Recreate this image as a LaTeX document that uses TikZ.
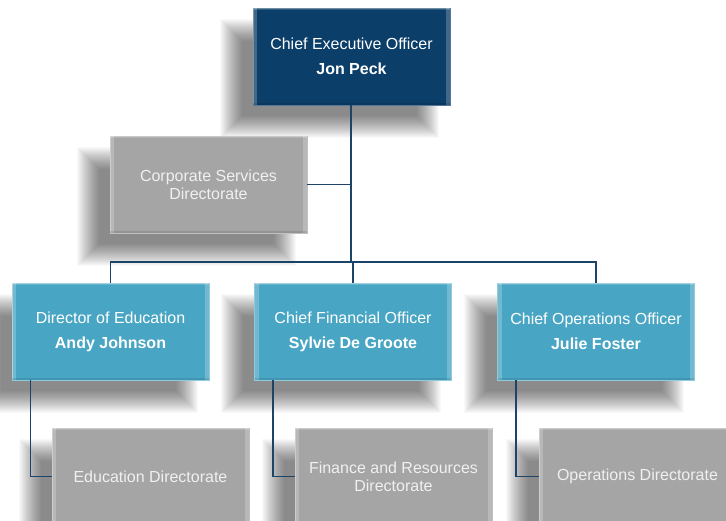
\documentclass[tikz,border=0pt]{standalone}
\usepackage{fontspec}
\setmainfont{Liberation Sans}
\usetikzlibrary{backgrounds,calc}
\definecolor{ceoblue}{HTML}{0B3E69}
\definecolor{mgrblue}{HTML}{48A6C4}
\definecolor{dirgray}{HTML}{A5A5A5}
\definecolor{linecol}{HTML}{1B4468}
\begin{document}
\begin{tikzpicture}[x=1pt,y=-1pt,
  boxbase/.style={rectangle, minimum width=197pt, minimum height=97pt, inner sep=0pt, align=center, font=\fontsize{16}{18}\selectfont},
  ceobox/.style={boxbase, fill=ceoblue, draw=ceoblue!70!white, line width=0.8pt, text=white},
  mgrbox/.style={boxbase, fill=mgrblue, draw=mgrblue!60!white, line width=0.8pt, text=white},
  dirbox/.style={boxbase, fill=dirgray, draw=dirgray!70!white, line width=0.8pt, text=white!94!black},
  conn/.style={draw=linecol, line width=1.5pt},
  shadowlayer/.style={black, opacity=0.024},
  bevel/.style={white, opacity=0.22}
]
\useasboundingbox (0,0) rectangle (726,521);
\clip (0,0) rectangle (726,521);

% nodes
\node[ceobox] (ceo) at (351.5,56.5) {Chief Executive Officer\\[7pt]\textbf{Jon Peck}};
\node[dirbox] (corp) at (208.5,184.5) {Corporate Services\\Directorate};
\node[mgrbox] (edu) at (110.5,331.5) {Director of Education\\[7pt]\textbf{Andy Johnson}};
\node[mgrbox] (cfo) at (353,331.5) {Chief Financial Officer\\[7pt]\textbf{Sylvie De Groote}};
\node[mgrbox] (coo) at (596,331.5) {Chief Operations Officer\\[7pt]\textbf{Julie Foster}};
\node[dirbox] (edudir) at (150.5,476.5) {Education Directorate};
\node[dirbox] (findir) at (393.5,476.5) {Finance and Resources\\Directorate};
\node[dirbox] (opsdir) at (637.5,476.5) {Operations Directorate};

% bevel strips
\foreach \n in {ceo,corp,edu,cfo,coo,edudir,findir,opsdir}{
  \fill[bevel] ($(\n.north west)+(0.5,0.5)$) rectangle ($(\n.south west)+(4.5,-0.5)$);
  \fill[bevel] ($(\n.north east)+(-4.5,0.5)$) rectangle ($(\n.south east)+(-0.5,-0.5)$);
  \fill[white, opacity=0.15] ($(\n.north west)+(0.5,0.5)$) rectangle ($(\n.north east)+(-0.5,2.5)$);
  \fill[black, opacity=0.10] ($(\n.south west)+(0.5,-2.5)$) rectangle ($(\n.south east)+(-0.5,-0.5)$);
}

% shadows
\begin{scope}[on background layer]
\fill[white] (0,0) rectangle (726,521);
\foreach \n in {ceo,corp,edu,cfo,coo,edudir,findir,opsdir}{
  \foreach \d in {-11,-10,...,11}{
    \fill[shadowlayer] ($(\n.south west)+(-22+\d,22-\d)$) rectangle ($(\n.north east)+(-22-\d,22+\d)$);
  }
}
\end{scope}

% connectors
\coordinate (bar) at (351,262);
\draw[conn] (ceo.south -| bar) -- (bar);
\draw[conn] (corp.east) -- (corp.east -| bar);
\draw[conn] (edu.north) -- (edu.north |- bar) -- (coo.north |- bar) -- (coo.north);
\draw[conn] (cfo.north) -- (cfo.north |- bar);
\draw[conn] ($(edu.south west)+(19,0)$) |- (edudir.west);
\draw[conn] ($(cfo.south west)+(19,0)$) |- (findir.west);
\draw[conn] ($(coo.south west)+(19,0)$) |- (opsdir.west);
\end{tikzpicture}
\end{document}
